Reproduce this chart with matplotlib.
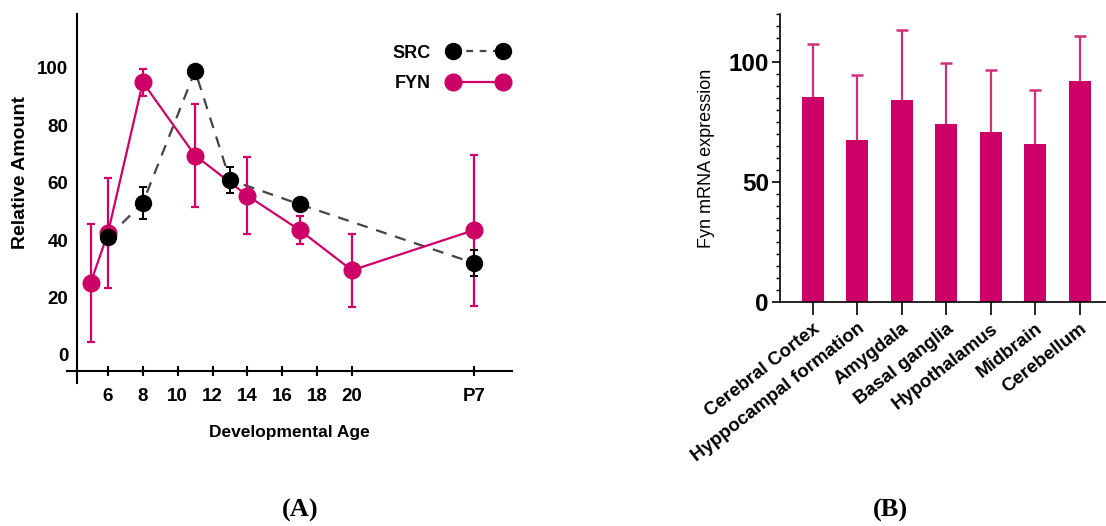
import matplotlib.pyplot as plt
from matplotlib.lines import Line2D
import numpy as np

plt.rcParams['font.family'] = ['Liberation Sans', 'DejaVu Sans']

# ---- Panel A: SRC / FYN over development ----
age_ticks = [6, 8, 10, 12, 14, 16, 18, 20, 27]
age_tick_labels = ['6', '8', '10', '12', '14', '16', '18', '20', 'P7']

fyn_age = [5, 6, 8, 11, 14, 17, 20, 27]
fyn_mean = [25, 42.5, 95, 69.5, 55.5, 43.5, 29.5, 43.5]
fyn_err = [20.5, 19, 4.8, 18, 13.4, 5, 12.7, 26.3]

src_age = [6, 8, 11, 13, 17, 27]
src_mean = [41, 53, 99, 61, 52.5, 32]
src_err = [1, 5.5, 1, 4.5, 1, 4.6]

# ---- Panel B: Fyn mRNA by brain region ----
regions = ['Cerebral Cortex', 'Hyppocampal formation', 'Amygdala', 'Basal ganglia',
           'Hypothalamus', 'Midbrain', 'Cerebellum']
fyn_mrna = [85.5, 67.5, 84, 74, 71, 66, 92]
fyn_mrna_sd = [22, 27, 29.5, 25.5, 25.5, 22.5, 19]

magenta = '#CC0066'
src_line = '#444444'
W, H = 1106, 526

fig = plt.figure(figsize=(W / 100, H / 100), dpi=100)

# panel A
axA = fig.add_axes([67 / W, 1 - 383 / H, 445 / W, 369 / H])
axA.errorbar(fyn_age, fyn_mean, yerr=fyn_err, color=magenta, lw=1.6, marker='o',
             ms=12, capsize=3, elinewidth=1.6, capthick=1.6, zorder=3)
axA.errorbar(src_age, src_mean, yerr=src_err, fmt='none', ecolor='black',
             elinewidth=1.4, capsize=3, capthick=1.4, zorder=4)
axA.plot(src_age, src_mean, color=src_line, lw=1.6, ls=(0, (5, 4)), zorder=2)
axA.plot(src_age, src_mean, 'o', color='black', ms=11.5, zorder=4)

axA.set_xlim(3.65, 29.18)
axA.set_ylim(-9.76, 118.8)
for s in ['top', 'right']:
    axA.spines[s].set_visible(False)
axA.spines['left'].set_position(('data', 4.2))
axA.spines['bottom'].set_position(('data', -5.6))
axA.spines['left'].set_linewidth(1.5)
axA.spines['bottom'].set_linewidth(1.5)
axA.set_xticks(age_ticks)
axA.set_xticklabels(age_tick_labels)
axA.set_yticks([0, 20, 40, 60, 80, 100])
axA.tick_params(axis='x', direction='inout', length=7, width=1.5, pad=9)
axA.tick_params(axis='y', length=0, pad=6)
for lab in axA.get_xticklabels() + axA.get_yticklabels():
    lab.set_fontweight('bold')
    lab.set_fontsize(13.5)
axA.set_xlabel('Developmental Age', fontsize=12.5, fontweight='bold', labelpad=14)
axA.set_ylabel('Relative Amount', fontsize=14, fontweight='bold')
axA.yaxis.set_label_coords(-0.085, 0.57)

handles = [
    Line2D([], [], color=src_line, lw=1.6, ls=(0, (3, 3)), marker='o', ms=11.5,
           mfc='black', mec='black'),
    Line2D([], [], color=magenta, lw=1.6, marker='o', ms=12),
]
axA.legend(handles, ['SRC', 'FYN'], loc='upper right', bbox_to_anchor=(1.017, 0.946),
           frameon=False, markerfirst=False, numpoints=2, handlelength=3.4,
           handletextpad=0.9, borderaxespad=0.2,
           prop={'weight': 'bold', 'size': 13}, labelspacing=0.75)

# panel B
axB = fig.add_axes([780 / W, 1 - 302 / H, 326 / W, 288 / H])
x = np.arange(len(regions))
axB.bar(x, fyn_mrna, width=0.49, color=magenta, zorder=2)
eb = axB.errorbar(x, fyn_mrna, yerr=[np.zeros(len(x)), fyn_mrna_sd], fmt='none',
                  ecolor='#D0307A', elinewidth=1.6, capsize=4, capthick=1.8, zorder=1)
eb[1][0].set_visible(False)  # no cap at the bar top
axB.set_xlim(-0.74, 6.59)
axB.set_ylim(0, 120)
for s in ['top', 'right']:
    axB.spines[s].set_visible(False)
axB.spines['left'].set_linewidth(1.2)
axB.spines['bottom'].set_linewidth(1.2)
axB.set_yticks([0, 50, 100])
axB.set_yticks(np.arange(0, 121, 5), minor=True)
axB.tick_params(axis='y', which='major', length=6, width=1.2, labelsize=17.5, pad=2)
axB.tick_params(axis='y', which='minor', length=3, width=1)
axB.set_xticks(x)
axB.set_xticklabels(regions, rotation=38, ha='right', rotation_mode='anchor',
                    fontsize=13.5, fontweight='bold')
axB.tick_params(axis='x', length=9, width=1.2, pad=4)
for lab in axB.get_yticklabels():
    lab.set_fontweight('bold')
axB.set_ylabel('Fyn mRNA expression', fontsize=13)
axB.yaxis.set_label_coords(-0.2, 0.5)

fig.text(300 / W, 1 - 510 / H, '(A)', family='Liberation Serif', fontweight='bold',
         fontsize=19, ha='center', va='center')
fig.text(890 / W, 1 - 510 / H, '(B)', family='Liberation Serif', fontweight='bold',
         fontsize=19, ha='center', va='center')

fig.savefig('out.png', dpi=100)
